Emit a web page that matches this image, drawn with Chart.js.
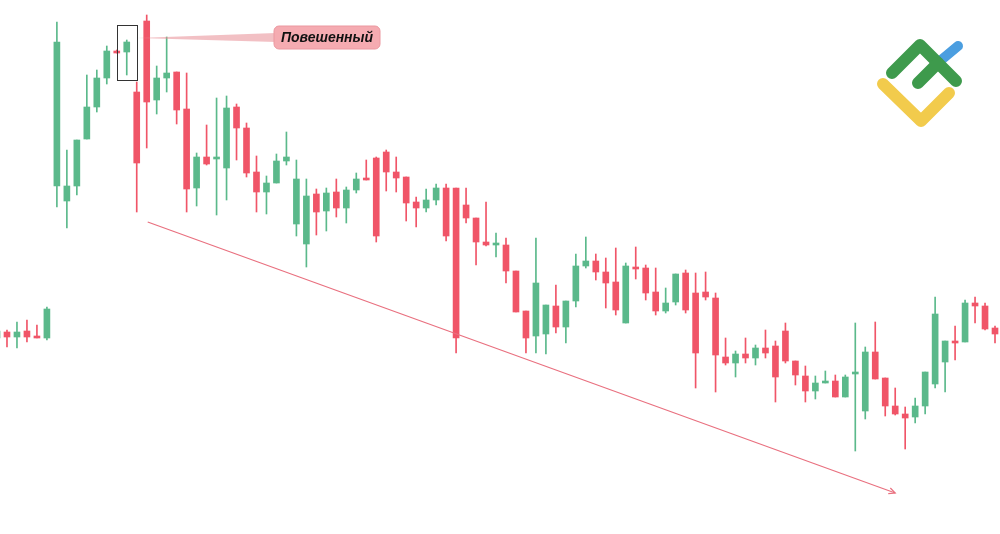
<!DOCTYPE html>
<html>
<head>
<meta charset="utf-8">
<script src="https://cdn.jsdelivr.net/npm/chart.js@4/dist/chart.umd.min.js"></script>
<style>
  html, body { margin: 0; padding: 0; background: #fff; }
  #wrap { position: relative; width: 1000px; height: 534px; }
  #logo { position: absolute; left: 0; top: 0; }
</style>
</head>
<body>
<div id="wrap">
  <canvas id="chart" width="1000" height="534"></canvas>
  <svg id="logo" width="1000" height="534" viewBox="0 0 1000 534">
    <g fill="none" stroke-linecap="round" stroke-linejoin="round">
      <path d="M883,84 L921,121 L949,93" stroke="#f2cb4c" stroke-width="12"/>
      <path d="M940,61 L958,46" stroke="#4b9ee0" stroke-width="10"/>
      <path d="M892,73 L920,45 L956,81" stroke="#3e9a4c" stroke-width="12"/>
      <path d="M918,83 L938,63" stroke="#3e9a4c" stroke-width="12"/>
    </g>
  </svg>
</div>
<script>
// candle values (price units), one entry per candle
const opens  = [196,202,197,203,197,196,348,333,348,395,427,456,483,482,442,513,434,456,462,425,
                346,377,375,366,427,406,362,342,351,373,310,290,340,323,342,326,344,355,376,382,
                362,357,332,326,334,346,346,329,316,292,289,289,263,223,198,200,228,207,233,268,
                273,262,252,211,267,266,242,223,232,261,241,242,236,177,171,180,176,186,188,203,
                173,158,143,151,153,137,160,123,182,156,128,120,117,128,150,172,193,192,231,228,206];
const highs  = [208,204,212,214,209,227,512,384,394,459,464,488,484,494,452,519,468,497,462,461,
                381,409,436,438,430,411,378,358,380,402,374,355,345,346,355,347,361,374,377,384,
                377,357,337,345,350,350,346,346,316,332,301,296,263,223,296,229,249,233,280,297,
                280,276,286,271,287,269,266,246,260,264,261,262,241,196,183,196,189,204,193,211,
                173,168,158,163,159,159,211,187,212,156,146,127,136,162,237,193,208,234,237,231,208];
const lows   = [189,187,186,192,196,194,327,306,339,395,422,450,481,459,322,386,420,442,410,322,
                328,369,319,334,374,357,322,320,351,369,298,267,299,303,317,311,341,354,292,343,
                342,313,307,322,329,293,181,311,269,288,277,251,222,181,181,180,201,191,227,266,
                254,226,219,211,255,234,219,221,229,221,146,234,142,169,157,171,169,176,132,171,
                149,132,135,151,137,137,83,115,155,118,119,85,111,120,146,142,174,192,211,204,191];
const closes = [203,197,202,197,196,225,492,348,394,427,456,483,481,492,371,432,456,461,424,345,
                377,370,377,426,406,361,342,351,373,377,355,338,322,341,326,344,355,354,298,362,
                356,331,326,334,346,298,196,316,292,289,290,263,222,196,251,229,207,233,268,273,
                262,251,224,268,265,241,223,231,260,224,181,237,179,171,180,176,186,181,157,173,
                159,143,151,152,137,157,162,182,155,128,120,116,128,162,220,193,191,231,228,205,200];

const patternLabel = 'Повешенный';
const patternIndex = 13;   // the boxed candle
const trendFrom = [15.1, 312];
const trendTo = [90, 41];

const green = '#5bb98b', red = '#f05568';
const idx = opens.map((_, i) => i);
const colors = idx.map(i => closes[i] >= opens[i] ? green : red);

const wicks = idx.map(i => ({x: i, y: [lows[i], highs[i]]}));
const bodies = idx.map(i => ({x: i, y: [opens[i], closes[i]]}));

const annotations = {
  id: 'annotations',
  afterDatasetsDraw(chart) {
    const {ctx, scales: {x, y}} = chart;
    ctx.save();

    // box round the hanging man candle
    const bx1 = Math.round(x.getPixelForValue(patternIndex - 1)) + 0.5;
    const bx2 = Math.round(x.getPixelForValue(patternIndex + 1)) + 0.5;
    const by1 = Math.round(y.getPixelForValue(highs[patternIndex] + 15)) + 0.5;
    const by2 = Math.round(y.getPixelForValue(lows[patternIndex] - 5)) + 0.5;
    ctx.strokeStyle = '#333';
    ctx.lineWidth = 1;
    ctx.strokeRect(bx1, by1, bx2 - bx1, by2 - by1);

    // callout
    const lx = 274, ly = 26, lw = 106, lh = 23;
    const py = (by1 + by2) / 2 - 15;
    ctx.fillStyle = 'rgba(232,140,148,0.55)';
    ctx.beginPath();
    ctx.moveTo(bx2, py);
    ctx.lineTo(lx + 2, ly + 7);
    ctx.lineTo(lx + 2, ly + 16);
    ctx.closePath();
    ctx.fill();

    ctx.beginPath();
    ctx.roundRect(lx, ly, lw, lh, 5);
    ctx.fillStyle = '#f5abb1';
    ctx.fill();
    ctx.strokeStyle = '#eb98a0';
    ctx.stroke();
    ctx.fillStyle = '#111';
    ctx.font = 'italic bold 14px "Liberation Sans", Arial, sans-serif';
    ctx.textAlign = 'center';
    ctx.textBaseline = 'middle';
    ctx.fillText(patternLabel, lx + lw / 2, ly + lh / 2 + 1);

    // trend arrow
    const ax1 = x.getPixelForValue(trendFrom[0]), ay1 = y.getPixelForValue(trendFrom[1]);
    const ax2 = x.getPixelForValue(trendTo[0]), ay2 = y.getPixelForValue(trendTo[1]);
    ctx.strokeStyle = '#e9707f';
    ctx.lineWidth = 1.2;
    ctx.beginPath();
    ctx.moveTo(ax1, ay1);
    ctx.lineTo(ax2, ay2);
    ctx.stroke();
    const ang = Math.atan2(ay2 - ay1, ax2 - ax1);
    ctx.beginPath();
    ctx.moveTo(ax2 - 7 * Math.cos(ang - 0.45), ay2 - 7 * Math.sin(ang - 0.45));
    ctx.lineTo(ax2, ay2);
    ctx.lineTo(ax2 - 7 * Math.cos(ang + 0.45), ay2 - 7 * Math.sin(ang + 0.45));
    ctx.stroke();

    ctx.restore();
  }
};

new Chart(document.getElementById('chart'), {
  type: 'bar',
  data: {
    datasets: [
      {data: wicks, backgroundColor: colors, barThickness: 1, grouped: false},
      {data: bodies, backgroundColor: colors, barThickness: 6, grouped: false, minBarLength: 2}
    ]
  },
  options: {
    responsive: false,
    animation: false,
    devicePixelRatio: 1,
    layout: {padding: 0},
    scales: {
      x: {type: 'linear', min: 0.3, max: 100.5, offset: false, display: false},
      y: {min: 0, max: 534, display: false}
    },
    plugins: {legend: {display: false}, tooltip: {enabled: false}}
  },
  plugins: [annotations]
});
</script>
</body>
</html>
